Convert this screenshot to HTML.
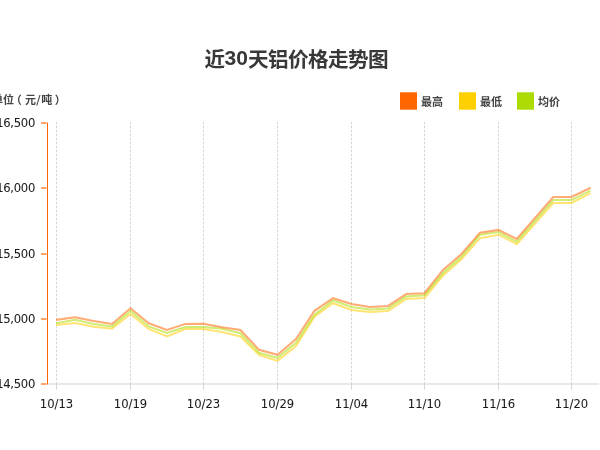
<!DOCTYPE html>
<html><head><meta charset="utf-8"><style>
html,body{margin:0;padding:0;background:#fff;width:600px;height:450px;overflow:hidden}
svg{display:block}
.g{stroke:#d6d6d6;stroke-width:1;stroke-dasharray:2 2}
.g0{stroke:#f6f6f6;stroke-width:1}
.xt{stroke:#d6d6d6;stroke-width:1}
.yt{fill:#ffa468}
.xl{font-family:"DejaVu Sans",Verdana,sans-serif;font-size:11.6px;letter-spacing:0px;fill:#1a1a1a;text-anchor:middle;stroke:#1a1a1a;stroke-width:.05}
.yl{font-family:"DejaVu Sans",Verdana,sans-serif;font-size:11.6px;letter-spacing:-.3px;fill:#1a1a1a;text-anchor:end;stroke:#1a1a1a;stroke-width:.05}
.cj{font-family:"Liberation Sans","Noto Sans CJK SC",sans-serif;font-size:11px;font-weight:700;fill:#444}
.sl{font-family:"DejaVu Sans",sans-serif;font-weight:400;font-size:12.5px}
.td{font-size:21px}
.tt{font-family:"Liberation Sans","Noto Sans CJK SC",sans-serif;font-size:20.6px;font-weight:bold;fill:#383838}
.ln{fill:none;stroke-width:2;stroke-linejoin:miter;stroke-linecap:square;stroke-opacity:.55;clip-path:url(#pc)}
</style></head><body>
<svg width="600" height="450" viewBox="0 0 600 450">
<text x="204.4 224.6 236.2 248.1 268.1 288.1 308.1 328.1 348.1 368.1" y="67.0" class="tt">近<tspan class="td" dy="-1.7">30</tspan><tspan dy="1.7">天铝价格走势图</tspan></text>
<text x="-8 3 10.7 25 36.2 41.2 54.7" y="104" class="cj">单位（元<tspan class="sl">/</tspan>吨）</text>
<rect x="400" y="92.3" width="17" height="17.4" fill="#ff6600"/>
<text x="421" y="106" class="cj">最高</text>
<rect x="459" y="92.3" width="17" height="17.4" fill="#ffd000"/>
<text x="480" y="106" class="cj">最低</text>
<rect x="517" y="92.3" width="17" height="17.4" fill="#addc04"/>
<text x="538" y="106" class="cj">均价</text>
<line x1="56.5" y1="122" x2="56.5" y2="383" class="g0"/><line x1="130.5" y1="122" x2="130.5" y2="383" class="g0"/><line x1="203.5" y1="122" x2="203.5" y2="383" class="g0"/><line x1="277.5" y1="122" x2="277.5" y2="383" class="g0"/><line x1="351.5" y1="122" x2="351.5" y2="383" class="g0"/><line x1="424.5" y1="122" x2="424.5" y2="383" class="g0"/><line x1="498.5" y1="122" x2="498.5" y2="383" class="g0"/><line x1="571.5" y1="122" x2="571.5" y2="383" class="g0"/>
<defs><clipPath id="pc"><rect x="56" y="100" width="534.9" height="300"/></clipPath></defs>
<line x1="56.5" y1="122" x2="56.5" y2="383" class="g"/><line x1="130.5" y1="122" x2="130.5" y2="383" class="g"/><line x1="203.5" y1="122" x2="203.5" y2="383" class="g"/><line x1="277.5" y1="122" x2="277.5" y2="383" class="g"/><line x1="351.5" y1="122" x2="351.5" y2="383" class="g"/><line x1="424.5" y1="122" x2="424.5" y2="383" class="g"/><line x1="498.5" y1="122" x2="498.5" y2="383" class="g"/><line x1="571.5" y1="122" x2="571.5" y2="383" class="g"/>
<rect x="47" y="383" width="552" height="2" fill="#e9e9e9"/>
<line x1="56.5" y1="383" x2="56.5" y2="389.5" class="xt"/><line x1="130.5" y1="383" x2="130.5" y2="389.5" class="xt"/><line x1="203.5" y1="383" x2="203.5" y2="389.5" class="xt"/><line x1="277.5" y1="383" x2="277.5" y2="389.5" class="xt"/><line x1="351.5" y1="383" x2="351.5" y2="389.5" class="xt"/><line x1="424.5" y1="383" x2="424.5" y2="389.5" class="xt"/><line x1="498.5" y1="383" x2="498.5" y2="389.5" class="xt"/><line x1="571.5" y1="383" x2="571.5" y2="389.5" class="xt"/>
<line x1="47.5" y1="122.5" x2="47.5" y2="384.5" stroke="#ff6600" stroke-width="1"/>
<rect x="41" y="122" width="5.5" height="2" class="yt"/><rect x="41" y="187" width="5.5" height="2" class="yt"/><rect x="41" y="253" width="5.5" height="2" class="yt"/><rect x="41" y="318" width="5.5" height="2" class="yt"/><rect x="41" y="383" width="5.5" height="2" class="yt"/>
<text x="35" y="126.8" class="yl">16,500</text><text x="35" y="191.8" class="yl">16,000</text><text x="35" y="257.8" class="yl">15,500</text><text x="35" y="322.8" class="yl">15,000</text><text x="35" y="387.8" class="yl">14,500</text>
<text x="56.5" y="407.7" class="xl">10/13</text><text x="130.5" y="407.7" class="xl">10/19</text><text x="203.5" y="407.7" class="xl">10/23</text><text x="277.5" y="407.7" class="xl">10/29</text><text x="351.5" y="407.7" class="xl">11/04</text><text x="424.5" y="407.7" class="xl">11/10</text><text x="498.5" y="407.7" class="xl">11/16</text><text x="571.5" y="407.7" class="xl">11/20</text>
<polyline class="ln" stroke="#ffcc00" points="56.50,325.00 75.00,322.90 93.50,326.65 112.00,328.65 130.50,313.95 148.75,328.90 167.00,336.45 185.25,329.10 203.50,328.90 222.00,332.00 240.50,336.50 259.00,354.80 277.50,360.90 296.00,346.10 314.50,316.80 333.00,303.20 351.50,310.00 369.75,312.00 388.00,311.00 406.25,298.90 424.50,298.00 443.00,275.50 461.50,259.20 480.00,238.20 498.50,234.70 516.75,244.20 535.00,223.60 553.25,203.00 571.50,203.00 589.75,193.50"/>
<polyline class="ln" stroke="#aadd00" points="56.50,323.20 75.00,319.70 93.50,323.95 112.00,326.55 130.50,311.00 148.75,326.45 167.00,332.90 185.25,327.00 203.50,327.00 222.00,328.80 240.50,333.20 259.00,352.80 277.50,357.90 296.00,342.90 314.50,314.60 333.00,300.40 351.50,306.90 369.75,309.60 388.00,308.40 406.25,296.50 424.50,295.30 443.00,273.00 461.50,256.80 480.00,234.80 498.50,232.10 516.75,241.70 535.00,220.85 553.25,200.00 571.50,200.00 589.75,191.00"/>
<polyline class="ln" stroke="#ff6600" points="56.50,319.85 75.00,317.20 93.50,321.00 112.00,324.05 130.50,308.25 148.75,323.30 167.00,329.90 185.25,323.90 203.50,323.70 222.00,327.20 240.50,330.00 259.00,349.80 277.50,354.80 296.00,339.00 314.50,310.80 333.00,298.20 351.50,304.00 369.75,306.90 388.00,305.90 406.25,294.10 424.50,293.20 443.00,269.90 461.50,254.00 480.00,232.70 498.50,229.90 516.75,239.00 535.00,218.00 553.25,197.00 571.50,197.00 589.75,188.20"/>
</svg>
</body></html>
